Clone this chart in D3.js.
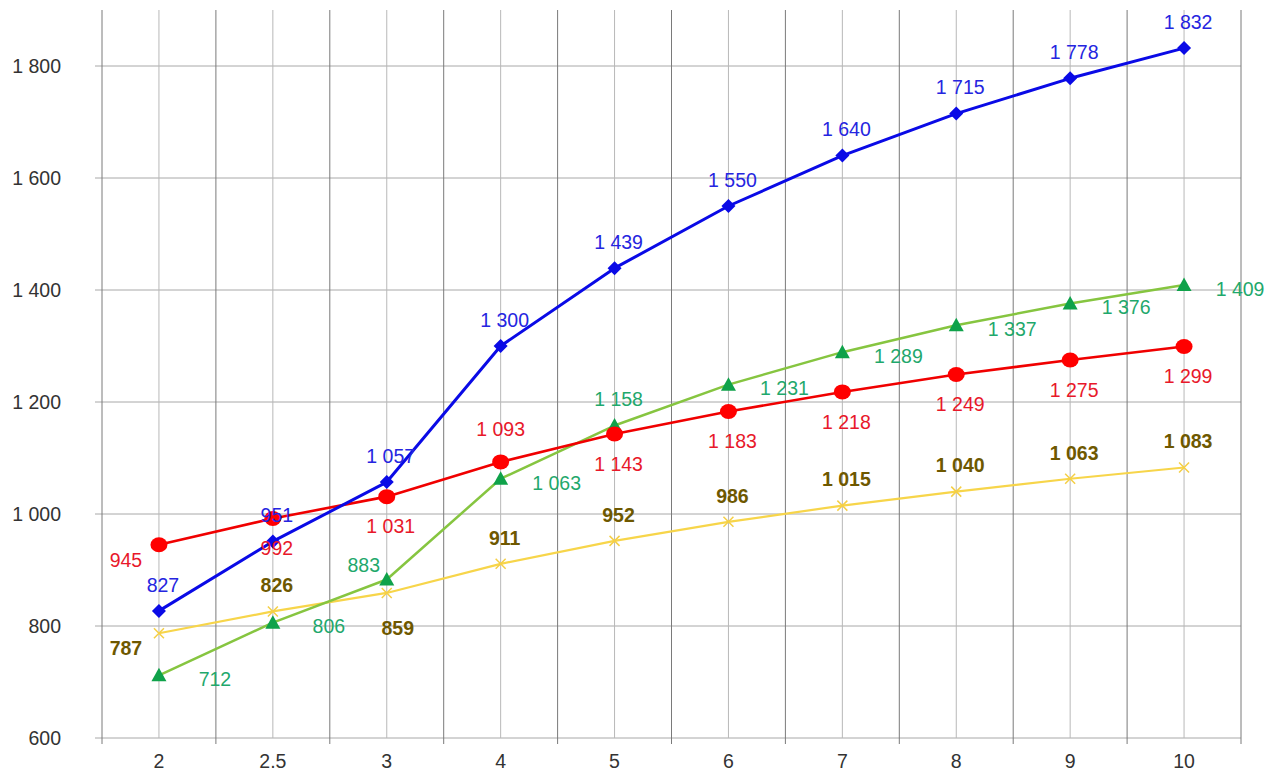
<!DOCTYPE html>
<html><head><meta charset="utf-8">
<script src="https://cdn.jsdelivr.net/npm/d3@7"></script>
<style>body{margin:0;background:#fff}svg{display:block}</style>
</head><body>
<svg id="c" width="1270" height="771"></svg>
<script>
const categories = ["2","2.5","3","4","5","6","7","8","9","10"];
const blueValues   = [827, 951, 1057, 1300, 1439, 1550, 1640, 1715, 1778, 1832];
const redValues    = [945, 992, 1031, 1093, 1143, 1183, 1218, 1249, 1275, 1299];
const greenValues  = [712, 806, 883, 1063, 1158, 1231, 1289, 1337, 1376, 1409];
const yellowValues = [787, 826, 859, 911, 952, 986, 1015, 1040, 1063, 1083];
const yTicks = [600, 800, 1000, 1200, 1400, 1600, 1800];

// label placement (style, not data)
const bluePlace   = ["a","a","a","a","a","a","a","a","a","a"];
const redPlace    = ["lb","b","b","ra","b","b","b","b","b","b"];
const greenPlace  = ["r","r","la","r","a","r","r","r","r","r"];
const yellowPlace = ["lb","a","yb","a","a","a","a","a","a","a"];

const svg = d3.select("#c");
const L = 102, R = 1241, T = 10, B = 738;
const x = d3.scalePoint().domain(categories).range([L, R]).padding(0.5);
const y = d3.scaleLinear().domain([600, 1900]).range([B, T]);
const step = x.step();
const loc = d3.formatLocale({decimal: ".", thousands: " ", grouping: [3], currency: ["", ""]});
const fmt = loc.format(",d");
const FONT = "'Liberation Sans', Arial, sans-serif";
const FS = 19.5;

// horizontal gridlines
svg.append("g").selectAll("line").data(yTicks).join("line")
  .attr("x1", L - 7).attr("x2", R).attr("y1", d => y(d)).attr("y2", d => y(d))
  .attr("stroke", "#a8a8a8").attr("stroke-width", 1);
// vertical: category centers (light)
svg.append("g").selectAll("line").data(categories).join("line")
  .attr("x1", d => x(d)).attr("x2", d => x(d)).attr("y1", T).attr("y2", B)
  .attr("stroke", "#b8b8b8").attr("stroke-width", 1);
// vertical: boundaries (dark)
svg.append("g").selectAll("line").data(d3.range(categories.length + 1)).join("line")
  .attr("x1", i => L + i * step).attr("x2", i => L + i * step).attr("y1", T).attr("y2", B + 6)
  .attr("stroke", "#7a7a7a").attr("stroke-width", 1);

// axis labels
svg.append("g").selectAll("text").data(yTicks).join("text")
  .attr("x", 61).attr("y", d => y(d)).attr("dy", "0.35em").attr("text-anchor", "end")
  .attr("font-family", FONT).attr("font-size", FS).attr("fill", "#333").text(d => fmt(d));
svg.append("g").selectAll("text").data(categories).join("text")
  .attr("x", d => x(d)).attr("y", 768).attr("text-anchor", "middle")
  .attr("font-family", FONT).attr("font-size", FS).attr("fill", "#333").text(d => d);

const series = [
  {vals: yellowValues, line: "#f7d54a", lw: 2.2, marker: "x", mcol: "#f5cf45", lab: "#6e5800", bold: true, place: yellowPlace},
  {vals: greenValues, line: "#86c540", lw: 2.5, marker: "tri", mcol: "#0fa24a", lab: "#1fa86c", bold: false, place: greenPlace},
  {vals: redValues, line: "#f00000", lw: 2.6, marker: "circ", mcol: "#ff0000", lab: "#e8182a", bold: false, place: redPlace},
  {vals: blueValues, line: "#0a0ae6", lw: 3, marker: "dia", mcol: "#0a0ae6", lab: "#2525e0", bold: false, place: bluePlace}
];

const lineGen = d3.line().x(d => x(d.c)).y(d => y(d.v));
const offsets = {a: [4, -26], b: [4, 30], r: [56, 4], la: [-23, -14], lb: [-33, 15], yb: [11, 35], ra: [0, -33]};

series.forEach(s => {
  const pts = categories.map((c, i) => ({c, v: s.vals[i], p: s.place[i]}));
  const g = svg.append("g");
  g.append("path").datum(pts).attr("d", lineGen).attr("fill", "none")
    .attr("stroke", s.line).attr("stroke-width", s.lw).attr("stroke-linejoin", "round");
  const m = g.selectAll("g.m").data(pts).join("g").attr("class", "m")
    .attr("transform", d => `translate(${x(d.c)},${y(d.v)})`);
  if (s.marker === "dia") m.append("path").attr("d", "M0,-7L7,0L0,7L-7,0Z").attr("fill", s.mcol);
  if (s.marker === "circ") m.append("ellipse").attr("rx", 8.5).attr("ry", 7.5).attr("fill", s.mcol);
  if (s.marker === "tri") m.append("path").attr("d", "M0,-7.5L7.5,6L-7.5,6Z").attr("fill", s.mcol);
  if (s.marker === "x") m.append("path").attr("d", "M-5,-5L5,5M-5,5L5,-5").attr("stroke", s.mcol).attr("stroke-width", 1.5);
});
series.forEach(s => {
  const pts = categories.map((c, i) => ({c, v: s.vals[i], p: s.place[i]}));
  svg.append("g").selectAll("text").data(pts).join("text")
    .attr("x", d => x(d.c) + offsets[d.p][0]).attr("y", d => y(d.v) + offsets[d.p][1])
    .attr("dy", "0.35em").attr("text-anchor", "middle")
    .attr("font-family", FONT).attr("font-size", FS)
    .attr("font-weight", s.bold ? "bold" : "normal").attr("fill", s.lab)
    .text(d => fmt(d.v));
});
</script>
</body></html>
